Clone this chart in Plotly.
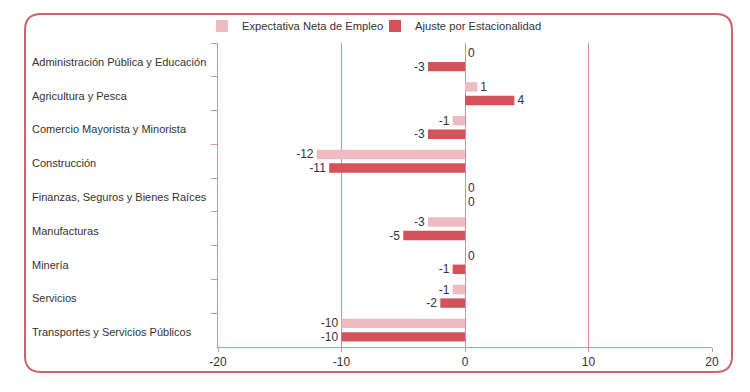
import plotly.graph_objects as go

categories = [
    "Administración Pública y Educación",
    "Agricultura y Pesca",
    "Comercio Mayorista y Minorista",
    "Construcción",
    "Finanzas, Seguros y Bienes Raíces",
    "Manufacturas",
    "Minería",
    "Servicios",
    "Transportes y Servicios Públicos",
]
expectativa = [0, 1, -1, -12, 0, -3, 0, -1, -10]
ajuste = [-3, 4, -3, -11, 0, -5, -1, -2, -10]
x_ticks = [-20, -10, 0, 10, 20]

LIGHT = "#eebbc2"
DARK = "#d4525c"
LINE = "#d88f99"
BORDER = "#c96470"
TEXT = "#333333"
FONT = "Liberation Sans, Arial, sans-serif"

# page has an 8px body margin: work in reference pixel coordinates, shift by OFF
OFF = 8
W, H = 750 - OFF, 392 - OFF
L = 218 - OFF
R = W - (712 - OFF)
T = 43 - OFF
B = H - (347 - OFF)
pw, ph = W - L - R, H - T - B

def px(x):
    return (x - OFF - L) / pw

def py(y):
    return (H - B - (y - OFF)) / ph

fig = go.Figure()
fig.add_trace(go.Bar(
    y=categories, x=expectativa, orientation="h", name="Expectativa Neta de Empleo",
    marker=dict(color=LIGHT, line=dict(width=0)),
    text=[str(v) for v in expectativa], textposition="outside", constraintext="none",
    textfont=dict(size=12, color=TEXT), cliponaxis=False, legend="legend",
))
fig.add_trace(go.Bar(
    y=categories, x=ajuste, orientation="h", name="Ajuste por Estacionalidad",
    marker=dict(color=DARK, line=dict(width=0)),
    text=[str(v) for v in ajuste], textposition="outside", constraintext="none",
    textfont=dict(size=12, color=TEXT), cliponaxis=False, legend="legend2",
))

# category labels, left-aligned
annotations = []
for c in categories:
    annotations.append(dict(
        x=px(30), xref="paper", y=c, yref="y", text=c, showarrow=False,
        xanchor="left", yanchor="middle", yshift=-2,
        font=dict(size=11, color=TEXT, family=FONT),
    ))

# rounded border
x0, x1, y0, y1, r = 25, 732, 14, 372, 16
path = (
    f"M {px(x0 + r)},{py(y0)} L {px(x1 - r)},{py(y0)} "
    f"Q {px(x1)},{py(y0)} {px(x1)},{py(y0 + r)} "
    f"L {px(x1)},{py(y1 - r)} Q {px(x1)},{py(y1)} {px(x1 - r)},{py(y1)} "
    f"L {px(x0 + r)},{py(y1)} Q {px(x0)},{py(y1)} {px(x0)},{py(y1 - r)} "
    f"L {px(x0)},{py(y0 + r)} Q {px(x0)},{py(y0)} {px(x0 + r)},{py(y0)} Z"
)

leg_common = dict(orientation="h", yanchor="middle", y=py(26), xanchor="left",
                  font=dict(size=11.2, color=TEXT), itemwidth=30,
                  bgcolor="rgba(0,0,0,0)", borderwidth=0)

fig.update_layout(
    width=W, height=H,
    margin=dict(l=L, r=R, t=T, b=B, autoexpand=False),
    paper_bgcolor="white", plot_bgcolor="white",
    font=dict(family=FONT, size=12, color=TEXT),
    barmode="group", bargap=0.2, bargroupgap=0.3,
    showlegend=True,
    legend=dict(x=px(202), **leg_common),
    legend2=dict(x=px(375), **leg_common),
    annotations=annotations,
    shapes=[dict(type="path", path=path, xref="paper", yref="paper",
                 line=dict(color=BORDER, width=2), layer="below")],
)
fig.update_xaxes(
    range=[-20, 20], tickvals=x_ticks, ticktext=[str(v) for v in x_ticks],
    showgrid=True, gridcolor=LINE, gridwidth=1,
    zeroline=True, zerolinecolor=LINE, zerolinewidth=1,
    showline=True, linecolor=LINE, linewidth=1,
    ticks="outside", ticklen=4, tickcolor=LINE,
    tickfont=dict(size=12, color=TEXT), layer="above traces", fixedrange=True,
    automargin=False,
)
fig.update_yaxes(
    autorange="reversed", showticklabels=False,
    showline=True, linecolor=LINE, linewidth=1,
    ticks="outside", ticklen=6, tickcolor=LINE, tickson="boundaries",
    showgrid=False, fixedrange=True, automargin=False,
)

fig.write_html("out.html")
